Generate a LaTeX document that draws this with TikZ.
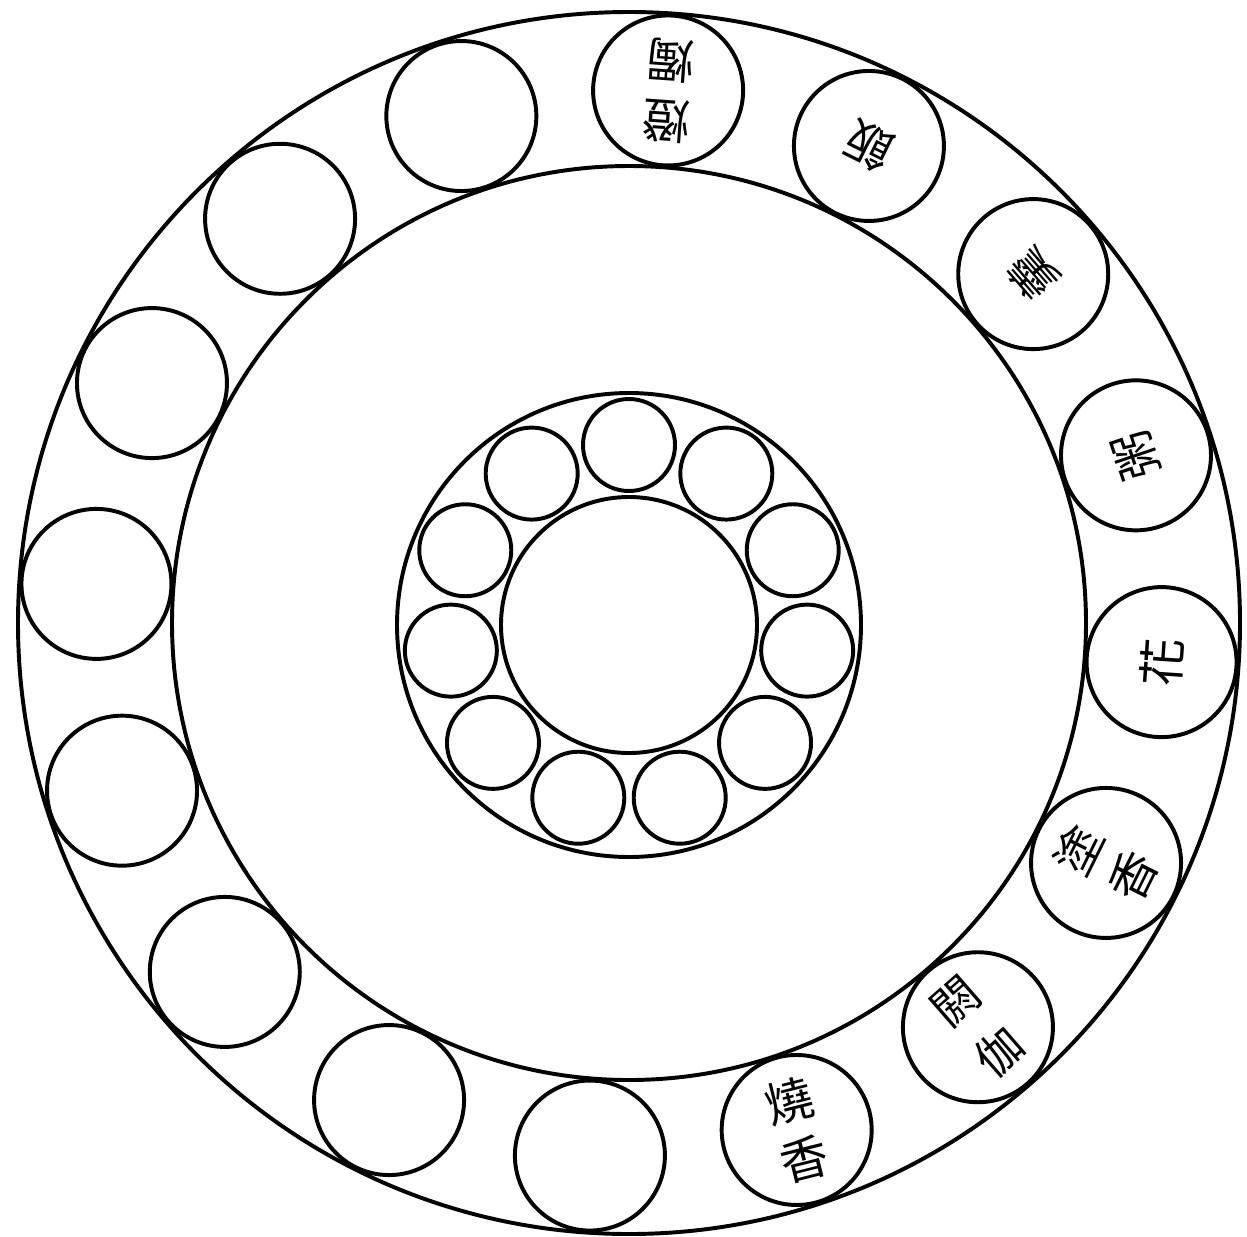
\documentclass[tikz,border=0pt]{standalone}
\usepackage{fontspec}
\usetikzlibrary{calc}
\newfontfamily\cjk{Noto Sans CJK TC}
\begin{document}
\begin{tikzpicture}[x=0.025cm,y=0.025cm,
  ring/.style={draw=black,line width=2.8pt},
  cell/.style={circle,draw=black,line width=2.8pt,minimum size=150*0.025cm,inner sep=0pt},
  small/.style={circle,draw=black,line width=2.8pt,minimum size=92*0.025cm,inner sep=0pt},
  lab/.style={font=\cjk\fontsize{34}{43}\selectfont,align=center,inner sep=0pt}]
\useasboundingbox[fill=white] (0,0) rectangle (1247,-1236);
\coordinate (c) at (629,-623);
\coordinate (ic) at (629,-625);
% big rings
\draw[ring] (c) circle (611);
\draw[ring] (c) circle (457);
% inner rings
\draw[ring] (ic) circle (232);
\draw[ring] (ic) circle (128);
% small circles of inner ring
\foreach \k in {0,...,10}{
  \node[small] (s\k) at ($(ic)+({90-32.727*\k}:180)$) {};
}
% outer ring circles
\foreach \k in {0,...,15}{
  \node[cell] (o\k) at ($(c)+({85.8-22.5*\k}:534)$) {};
}
% labels
\node[lab,rotate=176] (t0) at (o0) {燈\\燭};
\node[lab,rotate=153.6] (t1) at (o1) {飯};
\node[lab,rotate=131.1] (t2) at (o2) {羹};
\node[lab,rotate=108.6] (t3) at (o3) {粥};
\node[lab,rotate=86.1] (t4) at (o4) {花};
\node[lab,rotate=63.6] (t5) at (o5) {塗\\香};
\node[lab,rotate=41.1,font=\cjk\fontsize{33}{48}\selectfont] (t6) at (o6) {閼\\伽};
\node[lab,rotate=14] (t7) at (o7) {燒\\香};
\end{tikzpicture}
\end{document}
